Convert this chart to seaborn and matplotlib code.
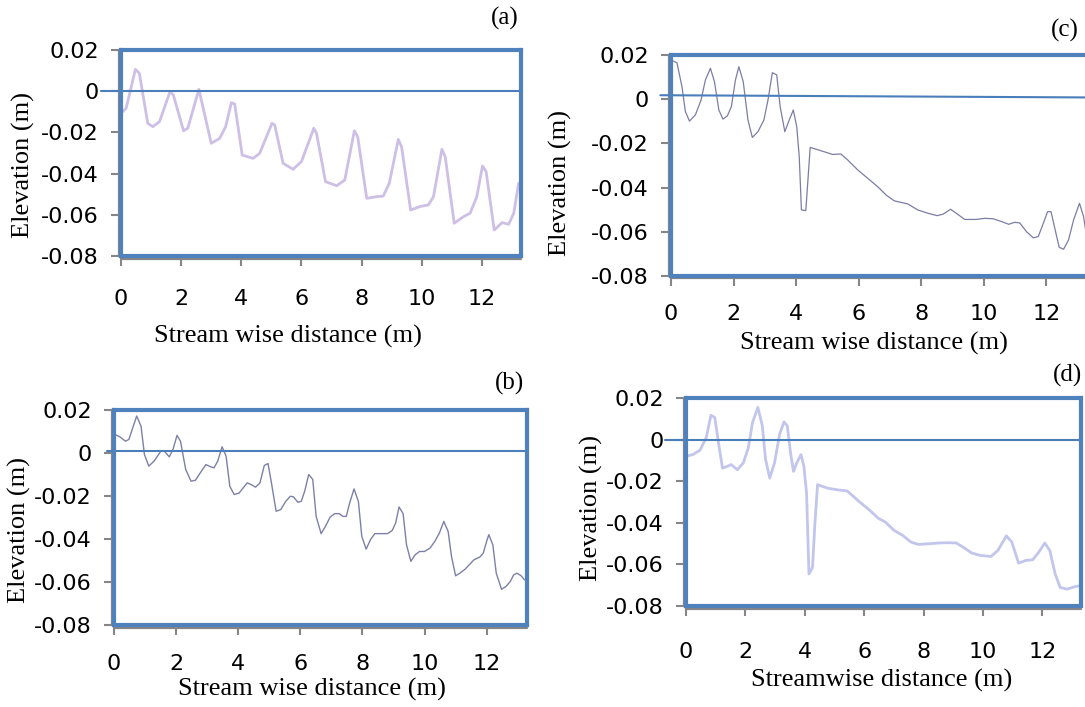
import numpy as np
import pandas as pd
import matplotlib
matplotlib.use("Agg")
import matplotlib.pyplot as plt
from matplotlib.transforms import offset_copy
import seaborn as sns

# ---------------- data ----------------
a_x = [0.0, 0.17, 0.48, 0.61, 0.89, 1.06, 1.28, 1.63, 1.74, 2.08, 2.22, 2.59, 3.0, 3.28, 3.48,
       3.67, 3.78, 4.03, 4.39, 4.61, 5.02, 5.11, 5.39, 5.72, 6.0, 6.41, 6.5, 6.8, 7.17, 7.44,
       7.76, 7.87, 8.17, 8.5, 8.72, 8.92, 9.22, 9.33, 9.63, 9.94, 10.22, 10.39, 10.67, 10.78,
       11.08, 11.39, 11.61, 11.83, 12.02, 12.14, 12.41, 12.67, 12.89, 13.06, 13.22]
a_y = [-0.0107, -0.0083, 0.0106, 0.0087, -0.0156, -0.0172, -0.0148, -0.0002, -0.0018, -0.0192,
       -0.0180, 0.0009, -0.0253, -0.0229, -0.0172, -0.0056, -0.0062, -0.0310, -0.0326, -0.0302,
       -0.0156, -0.0164, -0.0350, -0.0379, -0.0342, -0.0180, -0.0204, -0.0439, -0.0459, -0.0431,
       -0.0192, -0.0221, -0.0520, -0.0512, -0.0509, -0.0447, -0.0234, -0.0270, -0.0577, -0.0560,
       -0.0552, -0.0512, -0.0282, -0.0318, -0.0641, -0.0609, -0.0592, -0.0512, -0.0363, -0.0390,
       -0.0674, -0.0638, -0.0646, -0.0592, -0.0447]

b_x = [0.03, 0.18, 0.37, 0.48, 0.73, 0.87, 0.98, 1.12, 1.29, 1.51, 1.62, 1.78, 1.9, 2.03, 2.14,
       2.31, 2.48, 2.62, 2.78, 2.96, 3.11, 3.22, 3.34, 3.48, 3.61, 3.73, 3.87, 4.03, 4.29, 4.42,
       4.56, 4.7, 4.84, 4.96, 5.07, 5.22, 5.37, 5.53, 5.68, 5.78, 5.92, 6.03, 6.14, 6.27, 6.4,
       6.51, 6.67, 6.81, 6.96, 7.11, 7.26, 7.37, 7.48, 7.59, 7.73, 7.87, 7.98, 8.12, 8.26, 8.4,
       8.64, 8.81, 8.96, 9.07, 9.18, 9.31, 9.42, 9.56, 9.7, 9.84, 10.0, 10.18, 10.33, 10.48,
       10.62, 10.76, 10.87, 11.0, 11.14, 11.31, 11.44, 11.59, 11.78, 11.89, 12.0, 12.07, 12.2,
       12.31, 12.48, 12.62, 12.76, 12.87, 12.98, 13.11, 13.22]
b_y = [0.0086, 0.0076, 0.0055, 0.0063, 0.0172, 0.0125, -0.0007, -0.0061, -0.0038, 0.0009,
       0.0009, -0.0018, 0.0017, 0.0082, 0.0055, -0.0077, -0.0131, -0.0127, -0.0092, -0.0054,
       -0.0064, -0.0069, -0.0038, 0.0029, -0.0015, -0.0155, -0.0193, -0.0186, -0.0139, -0.0147,
       -0.0159, -0.0139, -0.0058, -0.0049, -0.0139, -0.0271, -0.0263, -0.0225, -0.0201, -0.0204,
       -0.0229, -0.0225, -0.0178, -0.0100, -0.0123, -0.0295, -0.0375, -0.0341, -0.0298, -0.0282,
       -0.0282, -0.0295, -0.0295, -0.0232, -0.0167, -0.0225, -0.0388, -0.0447, -0.0403, -0.0375,
       -0.0375, -0.0375, -0.0360, -0.0326, -0.0251, -0.0282, -0.0427, -0.0504, -0.0473, -0.0458,
       -0.0458, -0.0442, -0.0411, -0.0372, -0.0318, -0.0365, -0.0482, -0.0571, -0.0559, -0.0540,
       -0.0520, -0.0497, -0.0484, -0.0466, -0.0411, -0.0380, -0.0427, -0.0559, -0.0634, -0.0621,
       -0.0598, -0.0567, -0.0559, -0.0571, -0.0590]

c_x = [0.0, 0.19, 0.35, 0.46, 0.59, 0.78, 0.96, 1.1, 1.26, 1.39, 1.53, 1.66, 1.8, 1.93, 2.06,
       2.17, 2.31, 2.46, 2.6, 2.78, 2.97, 3.1, 3.24, 3.38, 3.49, 3.64, 3.78, 3.91, 4.02, 4.1,
       4.17, 4.31, 4.45, 4.79, 5.17, 5.43, 5.65, 5.97, 6.29, 6.61, 6.88, 7.14, 7.57, 7.89, 8.21,
       8.51, 8.7, 8.94, 9.12, 9.39, 9.76, 10.03, 10.3, 10.57, 10.8, 10.99, 11.15, 11.37, 11.58,
       11.74, 11.9, 12.04, 12.15, 12.28, 12.41, 12.55, 12.71, 12.87, 13.06, 13.19, 13.29]
c_y = [0.0177, 0.0165, 0.0057, -0.0056, -0.0099, -0.0071, -0.0004, 0.0087, 0.0140, 0.0079,
       -0.0049, -0.0090, -0.0076, -0.0034, 0.0087, 0.0147, 0.0079, -0.0094, -0.0173, -0.0147,
       -0.0094, -0.0004, 0.0120, 0.0110, -0.0034, -0.0147, -0.0094, -0.0049, -0.0124, -0.0260,
       -0.0501, -0.0504, -0.0218, -0.0233, -0.0250, -0.0248, -0.0275, -0.0320, -0.0358, -0.0396,
       -0.0434, -0.0460, -0.0474, -0.0501, -0.0516, -0.0527, -0.0520, -0.0498, -0.0516, -0.0544,
       -0.0544, -0.0539, -0.0541, -0.0554, -0.0566, -0.0557, -0.0560, -0.0600, -0.0627, -0.0622,
       -0.0563, -0.0509, -0.0509, -0.0590, -0.0670, -0.0679, -0.0637, -0.0547, -0.0471, -0.0531,
       -0.0622]

d_x = [0.02, 0.23, 0.47, 0.68, 0.84, 0.97, 1.11, 1.23, 1.4, 1.52, 1.73, 1.93, 2.1, 2.24, 2.42,
       2.57, 2.68, 2.82, 2.98, 3.15, 3.3, 3.41, 3.52, 3.62, 3.73, 3.87, 3.97, 4.06, 4.14, 4.26,
       4.34, 4.43, 4.78, 5.13, 5.43, 5.83, 6.18, 6.48, 6.71, 7.0, 7.29, 7.58, 7.82, 8.17, 8.52,
       8.81, 9.1, 9.33, 9.63, 9.92, 10.27, 10.5, 10.79, 10.97, 11.2, 11.44, 11.67, 11.88, 12.08,
       12.25, 12.43, 12.6, 12.84, 13.07, 13.24]
d_y = [-0.0080, -0.0072, -0.0051, 0.0009, 0.0117, 0.0106, -0.0031, -0.0137, -0.0128, -0.0120,
       -0.0145, -0.0112, -0.0039, 0.0082, 0.0155, 0.0066, -0.0096, -0.0185, -0.0112, 0.0025,
       0.0085, 0.0066, -0.0064, -0.0153, -0.0112, -0.0072, -0.0128, -0.0258, -0.0646, -0.0614,
       -0.0404, -0.0217, -0.0234, -0.0242, -0.0247, -0.0298, -0.0339, -0.0379, -0.0396, -0.0436,
       -0.0460, -0.0493, -0.0504, -0.0501, -0.0497, -0.0496, -0.0497, -0.0517, -0.0546, -0.0557,
       -0.0562, -0.0533, -0.0463, -0.0493, -0.0594, -0.0581, -0.0578, -0.0541, -0.0497, -0.0533,
       -0.0646, -0.0711, -0.0719, -0.0708, -0.0703]

# reference (zero) lines: start x, end x, start y, end y
ref_a = ([-0.67, 13.3], [0.0, 0.0])
ref_b = ([-0.24, 13.3], [0.0009, 0.0009])
ref_c = ([-0.34, 13.3], [0.0018, 0.0008])
ref_d = ([-0.70, 13.3], [0.0, 0.0])

x_ticks = [0, 2, 4, 6, 8, 10, 12]
x_tick_labels = ["0", "2", "4", "6", "8", "10", "12"]
y_ticks = [-0.08, -0.06, -0.04, -0.02, 0.0, 0.02]
y_tick_labels = ["-0.08", "-0.06", "-0.04", "-0.02", "0", "0.02"]

panel_letters = ["(a)", "(b)", "(c)", "(d)"]
x_titles = ["Stream wise distance (m)", "Stream wise distance (m)",
            "Stream wise distance (m)", "Streamwise distance (m)"]
y_title = "Elevation (m)"

# ---------------- styling ----------------
sns.set_theme(style="white")
plt.rcParams["font.family"] = ["DejaVu Sans"]

W, H = 1085, 707
fig = plt.figure(figsize=(W / 100, H / 100), dpi=100)
fig.patch.set_facecolor("white")

FRAME = "#4f81bd"
GREY = "#868686"
REF = "#4a7ebb"
SERIF = "Liberation Serif"


def px_axes(l, r, t, b):
    return fig.add_axes([l / W, 1 - b / H, (r - l) / W, (b - t) / H])


panels = [
    dict(box=(121, 521, 50, 256), x=a_x, y=a_y, ref=ref_a, color="#cdbfe5", lw=2.0,
         xpad=17, xlab=(0.4175, -0.39), ylab=(-0.245, 0.44), letter=(505, 18), title=x_titles[0],
         L=panel_letters[0]),
    dict(box=(114, 527, 410, 625), x=b_x, y=b_y, ref=ref_b, color="#7c80a8", lw=1.0,
         xpad=14, xlab=(0.479, -0.302), ylab=(-0.228, 0.442), letter=(510, 383), title=x_titles[1],
         L=panel_letters[1]),
    dict(box=(671, 1087, 55, 276), x=c_x, y=c_y, ref=ref_c, color="#7b7da6", lw=0.9,
         xpad=13, xlab=(0.488, -0.303), ylab=(-0.265, 0.42), letter=(1065, 30), title=x_titles[2],
         L=panel_letters[2]),
    dict(box=(686, 1081, 398, 606), x=d_x, y=d_y, ref=ref_d, color="#c2c5ec", lw=2.0,
         xpad=19, xlab=(0.496, -0.36), ylab=(-0.24, 0.47), letter=(1068, 375), title=x_titles[3],
         L=panel_letters[3]),
]

for p in panels:
    ax = px_axes(*p["box"])
    ax.set_facecolor("white")
    df = pd.DataFrame({"x": p["x"], "y": p["y"]})
    sns.lineplot(data=df, x="x", y="y", ax=ax, color=p["color"], lw=p["lw"],
                 sort=False, estimator=None, zorder=3,
                 solid_joinstyle="round", solid_capstyle="round")
    rx, ry = p["ref"]
    ax.plot(rx, ry, color=REF, lw=1.5, clip_on=False, zorder=4)
    ax.set_xlim(0, 13.3)
    ax.set_ylim(-0.08, 0.02)
    ax.set_xticks(x_ticks)
    ax.set_xticklabels(x_tick_labels)
    ax.set_yticks(y_ticks)
    ax.set_yticklabels(y_tick_labels)
    ax.grid(False)
    for s in ax.spines.values():
        s.set_visible(True)
        s.set_color(FRAME)
        s.set_linewidth(3.0)
        s.set_zorder(5)
    # grey axis lines just outside the blue frame (left and bottom)
    ax.plot([0, 0], [0, 1], transform=offset_copy(ax.transAxes, fig, x=-2.5, y=0, units="dots"),
            color=GREY, lw=1.6, clip_on=False, zorder=2)
    ax.plot([0, 1], [0, 0], transform=offset_copy(ax.transAxes, fig, x=0, y=-2.5, units="dots"),
            color=GREY, lw=1.6, clip_on=False, zorder=2)
    ax.tick_params(axis="both", which="major", direction="out", length=7, width=1.5,
                   color=GREY, labelsize=16, labelcolor="black", left=True, bottom=True)
    ax.tick_params(axis="x", pad=p["xpad"])
    ax.tick_params(axis="y", pad=9)
    ax.set_xlabel(p["title"], fontfamily=SERIF, fontsize=19, color="black")
    ax.set_ylabel(y_title, fontfamily=SERIF, fontsize=19, color="black")
    ax.xaxis.set_label_coords(*p["xlab"])
    ax.xaxis.label.set_verticalalignment("center")
    ax.yaxis.set_label_coords(*p["ylab"])
    ax.yaxis.label.set_verticalalignment("center")
    lx, ly = p["letter"]
    fig.text(lx / W, 1 - ly / H, p["L"], fontfamily=SERIF, fontsize=18,
             ha="center", va="center", color="black")

fig.savefig("out.png", dpi=100, facecolor="white")
